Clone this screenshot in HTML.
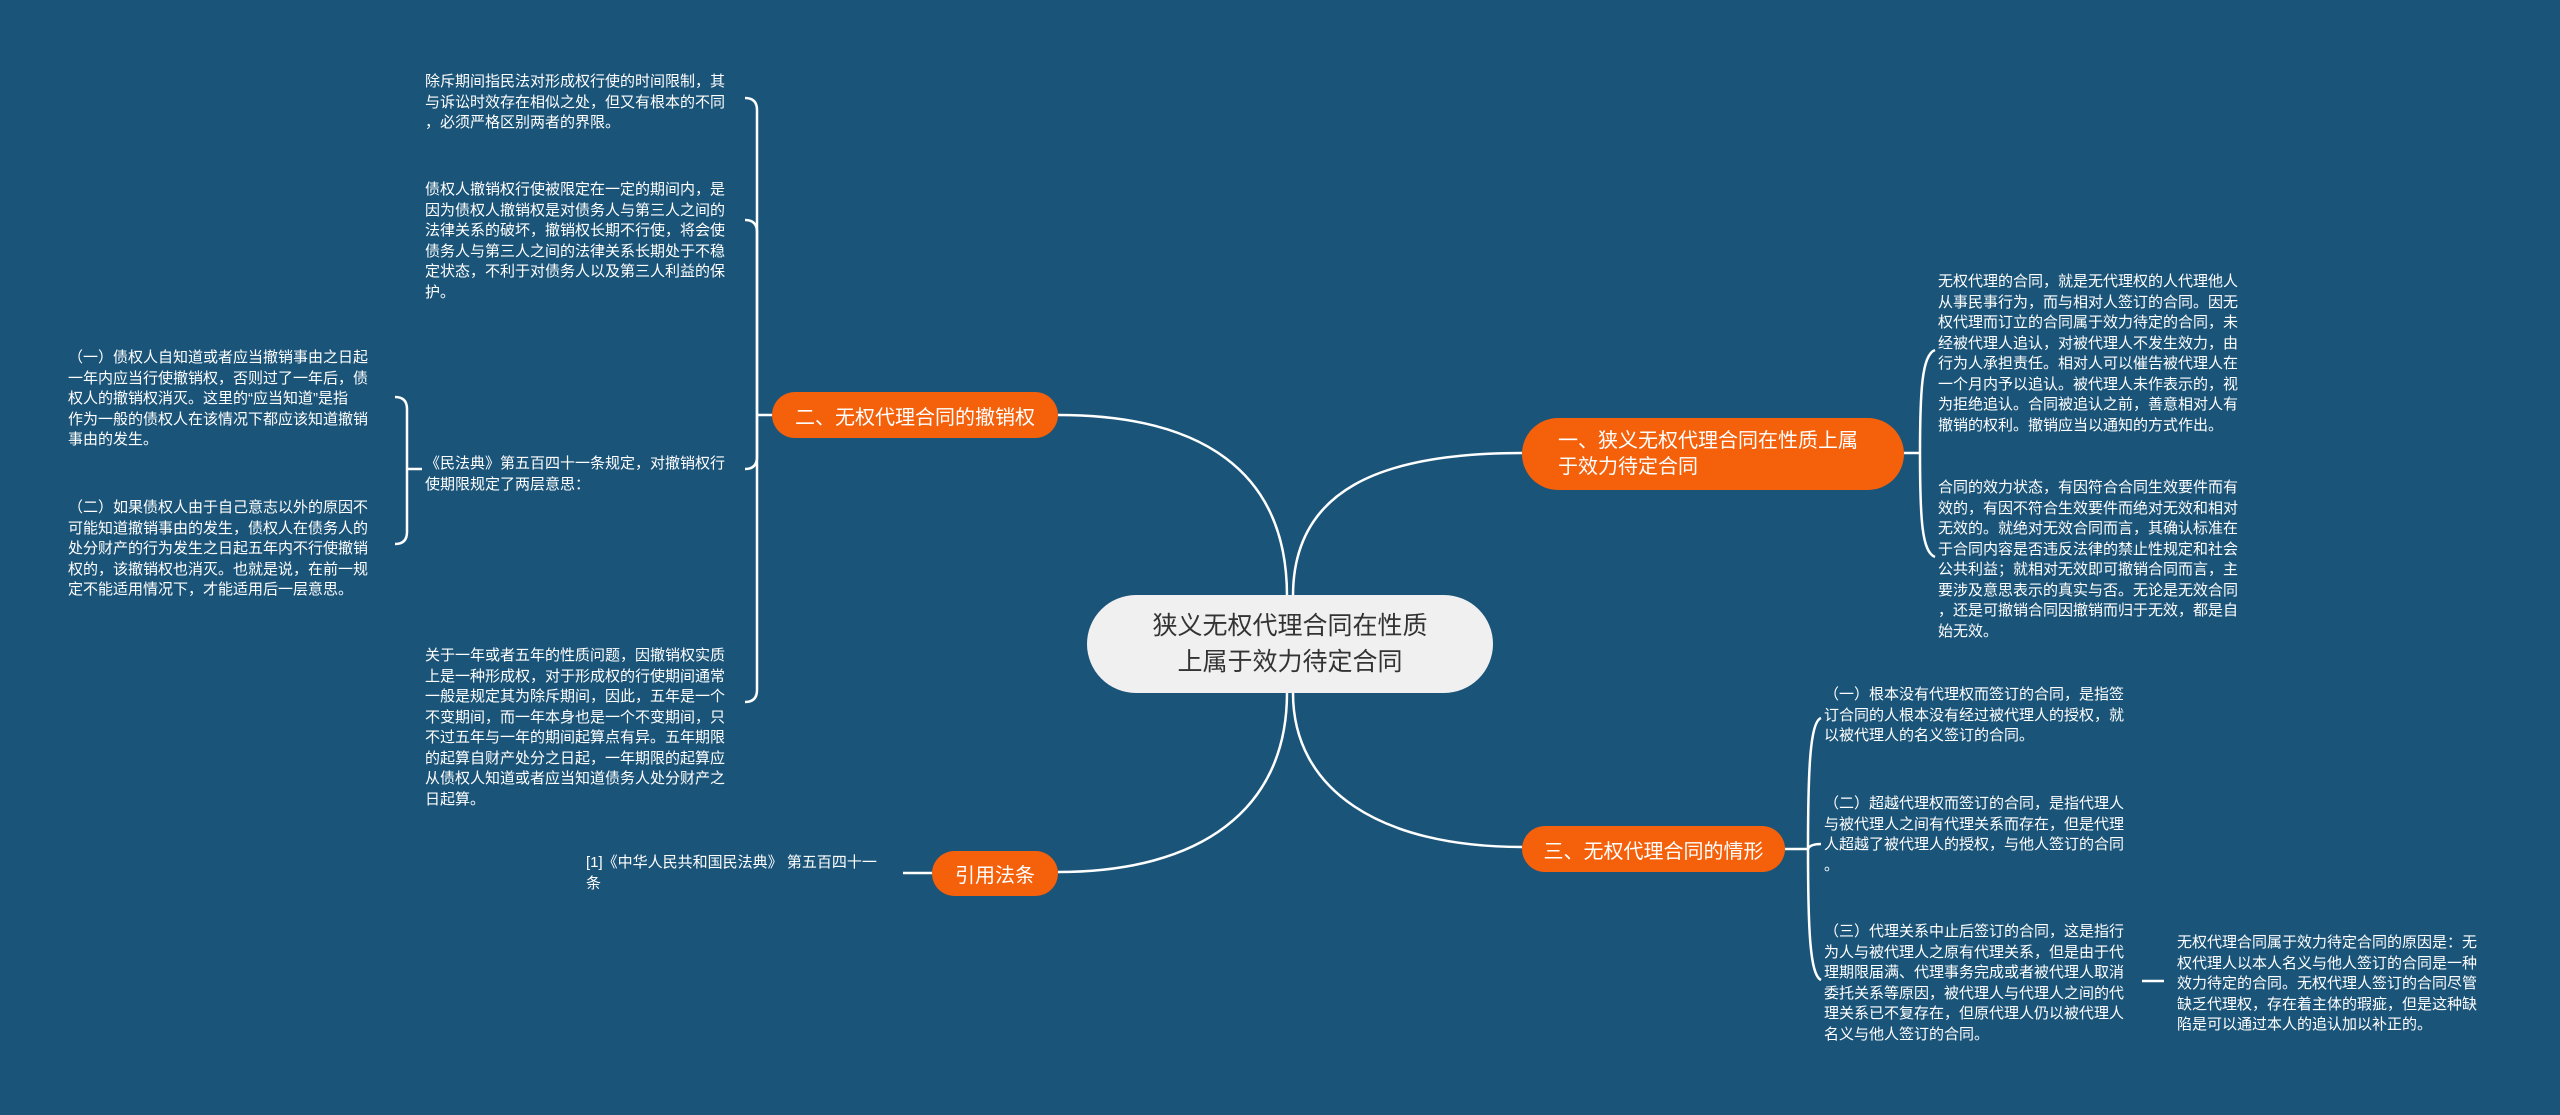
<!DOCTYPE html>
<html><head><meta charset="utf-8">
<style>
html,body{margin:0;padding:0;}
body{width:2560px;height:1115px;background:#1b5479;position:relative;overflow:hidden;font-family:"Liberation Sans","Noto Sans CJK SC",sans-serif;}
.t{position:absolute;color:#fff;font-size:15px;line-height:20.5px;white-space:nowrap;}
.n{position:absolute;background:#f5600b;color:#fff;border-radius:24px;box-sizing:border-box;font-size:20px;display:flex;align-items:center;}
svg{position:absolute;left:0;top:0;}
</style></head><body>
<svg width="2560" height="1115" fill="none" stroke="#fff" stroke-width="2.5">
<path d="M1287 596 C1287 470 1200 415 1058 415"/>
<path d="M1293 596 C1293 490 1380 453 1522 453"/>
<path d="M1287 693 C1287 810 1200 872 1058 872"/>
<path d="M1293 693 C1293 790 1380 847 1522 847"/>
<!-- 二 bracket -->
<path d="M772 415 L757 415"/>
<path d="M757 415 L757 110 Q757 98 745 98"/>
<path d="M757 415 L757 232 Q757 220 745 220"/>
<path d="M757 415 L757 457 Q757 469 745 469"/>
<path d="M757 415 L757 690 Q757 702 745 702"/>
<!-- 民法典 bracket -->
<path d="M422 469 L407 469"/>
<path d="M407 469 L407 409 Q407 397 395 397"/>
<path d="M407 469 L407 532 Q407 544 395 544"/>
<!-- 一 bracket -->
<path d="M1904 453 L1920 453"/>
<path d="M1920 453 C1920 390 1922 355 1935 350"/>
<path d="M1920 453 C1920 520 1922 552 1935 557"/>
<!-- 三 bracket -->
<path d="M1785 849 L1808 849"/>
<path d="M1808 849 C1808 770 1810 722 1821 718"/>
<path d="M1808 849 Q1810 844 1821 844"/>
<path d="M1808 849 C1808 930 1810 975 1821 980"/>
<!-- 引用 / leaf -->
<path d="M903 873 L932 873"/>
<path d="M2142 981 L2164 981"/>
</svg>

<div style="position:absolute;left:1087px;top:595px;width:406px;height:98px;background:#f0f0f0;border-radius:49px;color:#333;font-size:25px;line-height:36px;text-align:center;display:flex;align-items:center;justify-content:center;">狭义无权代理合同在性质<br>上属于效力待定合同</div>

<div class="n" style="left:772px;top:392px;width:286px;height:46px;justify-content:center;">二、无权代理合同的撤销权</div>
<div class="n" style="left:932px;top:851px;width:126px;height:45px;justify-content:center;">引用法条</div>
<div class="n" style="left:1522px;top:418px;width:382px;height:72px;padding-left:36px;line-height:26px;border-radius:36px;">一、狭义无权代理合同在性质上属<br>于效力待定合同</div>
<div class="n" style="left:1522px;top:826px;width:263px;height:46px;justify-content:center;">三、无权代理合同的情形</div>

<div class="t" style="left:425px;top:72px;">除斥期间指民法对形成权行使的时间限制，其<br>与诉讼时效存在相似之处，但又有根本的不同<br>，必须严格区别两者的界限。</div>
<div class="t" style="left:425px;top:180px;">债权人撤销权行使被限定在一定的期间内，是<br>因为债权人撤销权是对债务人与第三人之间的<br>法律关系的破坏，撤销权长期不行使，将会使<br>债务人与第三人之间的法律关系长期处于不稳<br>定状态，不利于对债务人以及第三人利益的保<br>护。</div>
<div class="t" style="left:425px;top:454px;">《民法典》第五百四十一条规定，对撤销权行<br>使期限规定了两层意思：</div>
<div class="t" style="left:68px;top:348px;">（一）债权人自知道或者应当撤销事由之日起<br>一年内应当行使撤销权，否则过了一年后，债<br>权人的撤销权消灭。这里的“应当知道”是指<br>作为一般的债权人在该情况下都应该知道撤销<br>事由的发生。</div>
<div class="t" style="left:68px;top:498px;">（二）如果债权人由于自己意志以外的原因不<br>可能知道撤销事由的发生，债权人在债务人的<br>处分财产的行为发生之日起五年内不行使撤销<br>权的，该撤销权也消灭。也就是说，在前一规<br>定不能适用情况下，才能适用后一层意思。</div>
<div class="t" style="left:425px;top:646px;">关于一年或者五年的性质问题，因撤销权实质<br>上是一种形成权，对于形成权的行使期间通常<br>一般是规定其为除斥期间，因此，五年是一个<br>不变期间，而一年本身也是一个不变期间，只<br>不过五年与一年的期间起算点有异。五年期限<br>的起算自财产处分之日起，一年期限的起算应<br>从债权人知道或者应当知道债务人处分财产之<br>日起算。</div>
<div class="t" style="left:586px;top:853px;">[1]《中华人民共和国民法典》 第五百四十一<br>条</div>

<div class="t" style="left:1938px;top:272px;">无权代理的合同，就是无代理权的人代理他人<br>从事民事行为，而与相对人签订的合同。因无<br>权代理而订立的合同属于效力待定的合同，未<br>经被代理人追认，对被代理人不发生效力，由<br>行为人承担责任。相对人可以催告被代理人在<br>一个月内予以追认。被代理人未作表示的，视<br>为拒绝追认。合同被追认之前，善意相对人有<br>撤销的权利。撤销应当以通知的方式作出。</div>
<div class="t" style="left:1938px;top:478px;">合同的效力状态，有因符合合同生效要件而有<br>效的，有因不符合生效要件而绝对无效和相对<br>无效的。就绝对无效合同而言，其确认标准在<br>于合同内容是否违反法律的禁止性规定和社会<br>公共利益；就相对无效即可撤销合同而言，主<br>要涉及意思表示的真实与否。无论是无效合同<br>，还是可撤销合同因撤销而归于无效，都是自<br>始无效。</div>

<div class="t" style="left:1824px;top:685px;">（一）根本没有代理权而签订的合同，是指签<br>订合同的人根本没有经过被代理人的授权，就<br>以被代理人的名义签订的合同。</div>
<div class="t" style="left:1824px;top:794px;">（二）超越代理权而签订的合同，是指代理人<br>与被代理人之间有代理关系而存在，但是代理<br>人超越了被代理人的授权，与他人签订的合同<br>。</div>
<div class="t" style="left:1824px;top:922px;">（三）代理关系中止后签订的合同，这是指行<br>为人与被代理人之原有代理关系，但是由于代<br>理期限届满、代理事务完成或者被代理人取消<br>委托关系等原因，被代理人与代理人之间的代<br>理关系已不复存在，但原代理人仍以被代理人<br>名义与他人签订的合同。</div>
<div class="t" style="left:2177px;top:933px;">无权代理合同属于效力待定合同的原因是：无<br>权代理人以本人名义与他人签订的合同是一种<br>效力待定的合同。无权代理人签订的合同尽管<br>缺乏代理权，存在着主体的瑕疵，但是这种缺<br>陷是可以通过本人的追认加以补正的。</div>
</body></html>
